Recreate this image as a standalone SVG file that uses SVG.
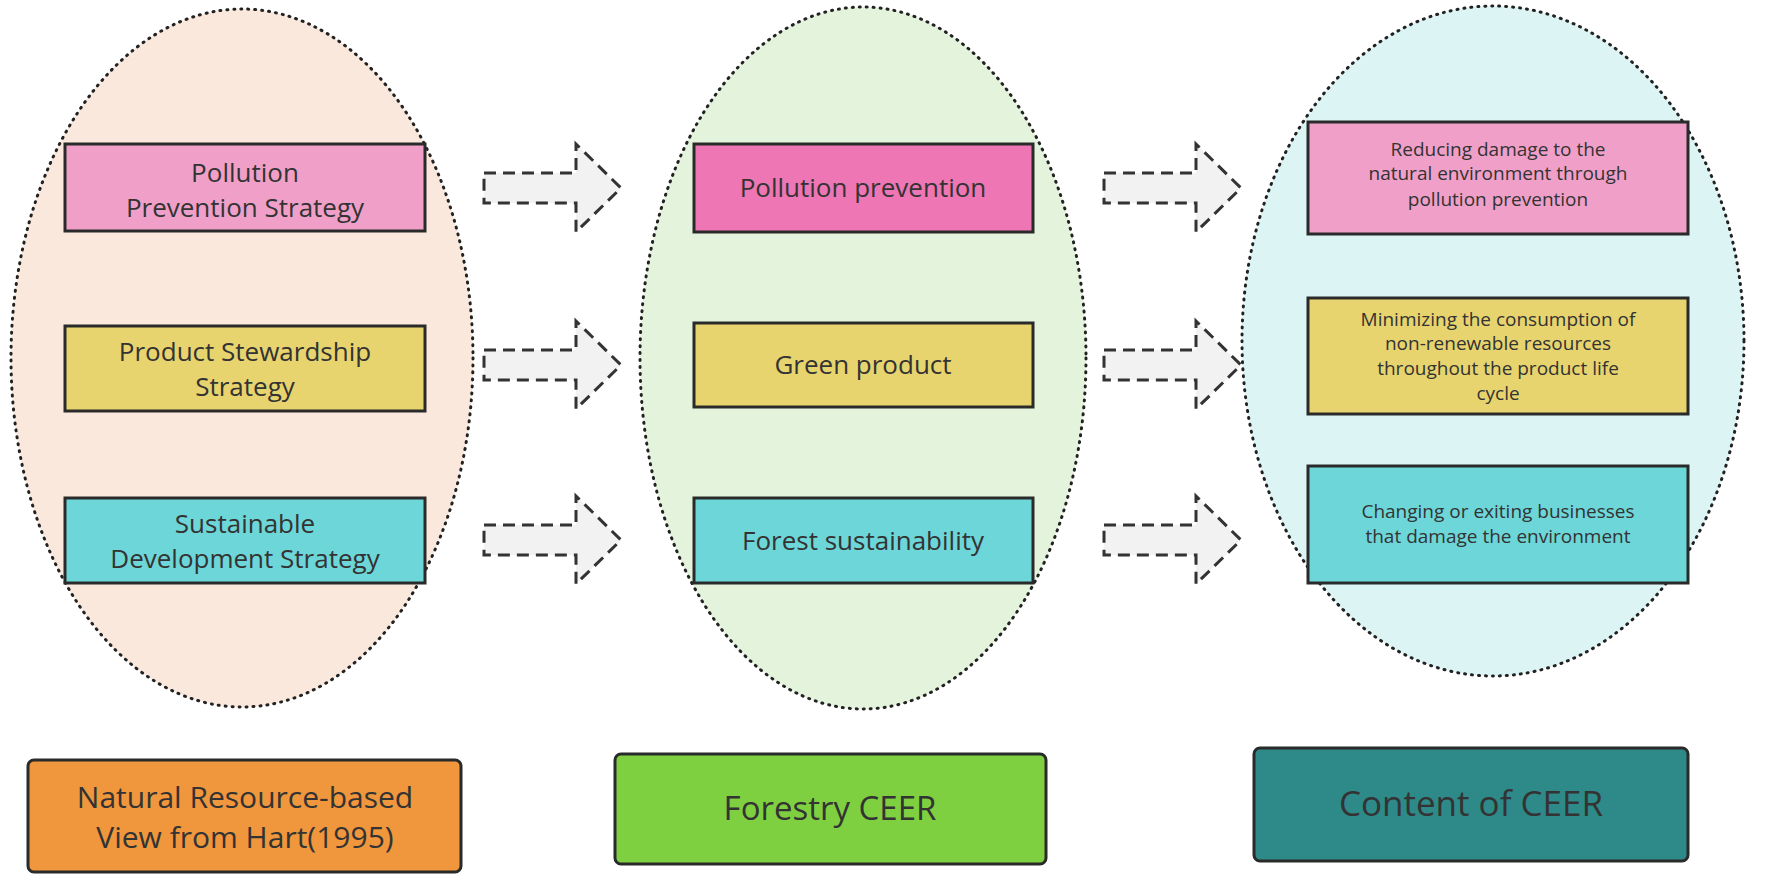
<svg xmlns="http://www.w3.org/2000/svg" width="1772" height="886" viewBox="0 0 1772 886">
<style>
.ell{stroke:#222;stroke-width:3;stroke-dasharray:1 6;stroke-linecap:round}
.box{stroke:#2a2a2a;stroke-width:3}
.t{font-family:"Open Sans","Liberation Sans",sans-serif;fill:#333;text-anchor:middle}
.m{font-size:26px}.s{font-size:19px}.b{font-size:30px}
.arr{fill:#f2f2f2;stroke:#333;stroke-width:3;stroke-dasharray:12 7}
</style>
<defs><path id="ar" class="arr" d="M0,-15 H92 V-44 L137,0 L92,44 V15 H0 Z"/></defs>
<rect width="1772" height="886" fill="#fff"/>
<g id="ellipse-left"><ellipse class="ell" cx="242" cy="358" rx="231" ry="349" fill="#fbe8dc"/></g>
<g id="ellipse-mid"><ellipse class="ell" cx="863" cy="358" rx="223" ry="351" fill="#e4f4dc"/></g>
<g id="ellipse-right"><ellipse class="ell" cx="1493" cy="341" rx="251" ry="335" fill="#dcf4f4"/></g>
<g id="connectors">
<use href="#ar" x="484" y="188"/><use href="#ar" x="484" y="365"/><use href="#ar" x="484" y="540"/>
<use href="#ar" x="1104" y="188"/><use href="#ar" x="1104" y="365"/><use href="#ar" x="1104" y="540"/>
</g>
<g id="n1"><rect class="box" x="65" y="144" width="360" height="87" fill="#f0a0c8"/><text class="t m" x="245" y="182">Pollution</text><text class="t m" x="245" y="217">Prevention Strategy</text></g>
<g id="n2"><rect class="box" x="65" y="326" width="360" height="85" fill="#e8d46e"/><text class="t m" x="245" y="361">Product Stewardship</text><text class="t m" x="245" y="396">Strategy</text></g>
<g id="n3"><rect class="box" x="65" y="498" width="360" height="85" fill="#6dd6d8"/><text class="t m" x="245" y="533">Sustainable</text><text class="t m" x="245" y="568">Development Strategy</text></g>
<g id="m1"><rect class="box" x="694" y="144" width="339" height="88" fill="#ee76b4"/><text class="t m" x="863" y="197">Pollution prevention</text></g>
<g id="m2"><rect class="box" x="694" y="323" width="339" height="84" fill="#e8d46e"/><text class="t m" x="863" y="374">Green product</text></g>
<g id="m3"><rect class="box" x="694" y="498" width="339" height="85" fill="#6dd6d8"/><text class="t m" x="863" y="550">Forest sustainability</text></g>
<g id="r1"><rect class="box" x="1308" y="122" width="380" height="112" fill="#f0a0c8"/><text class="t s" x="1498" y="156">Reducing damage to the</text><text class="t s" x="1498" y="180">natural environment through</text><text class="t s" x="1498" y="206">pollution prevention</text></g>
<g id="r2"><rect class="box" x="1308" y="298" width="380" height="116" fill="#e8d46e"/><text class="t s" x="1498" y="326">Minimizing the consumption of</text><text class="t s" x="1498" y="350">non-renewable resources</text><text class="t s" x="1498" y="375">throughout the product life</text><text class="t s" x="1498" y="400">cycle</text></g>
<g id="r3"><rect class="box" x="1308" y="466" width="380" height="117" fill="#6dd6d8"/><text class="t s" x="1498" y="518">Changing or exiting businesses</text><text class="t s" x="1498" y="543">that damage the environment</text></g>
<g id="b1"><rect class="box" x="28" y="760" width="433" height="112" rx="6" fill="#f0963c"/><text class="t b" x="245" y="808">Natural Resource-based</text><text class="t b" x="245" y="848">View from Hart(1995)</text></g>
<g id="b2"><rect class="box" x="615" y="754" width="431" height="110" rx="6" fill="#7ed040"/><text class="t b" x="830" y="820" style="font-size:33px">Forestry CEER</text></g>
<g id="b3"><rect class="box" x="1254" y="748" width="434" height="113" rx="6" fill="#2e8a88"/><text class="t b" x="1471" y="816" style="font-size:35px">Content of CEER</text></g>
</svg>
